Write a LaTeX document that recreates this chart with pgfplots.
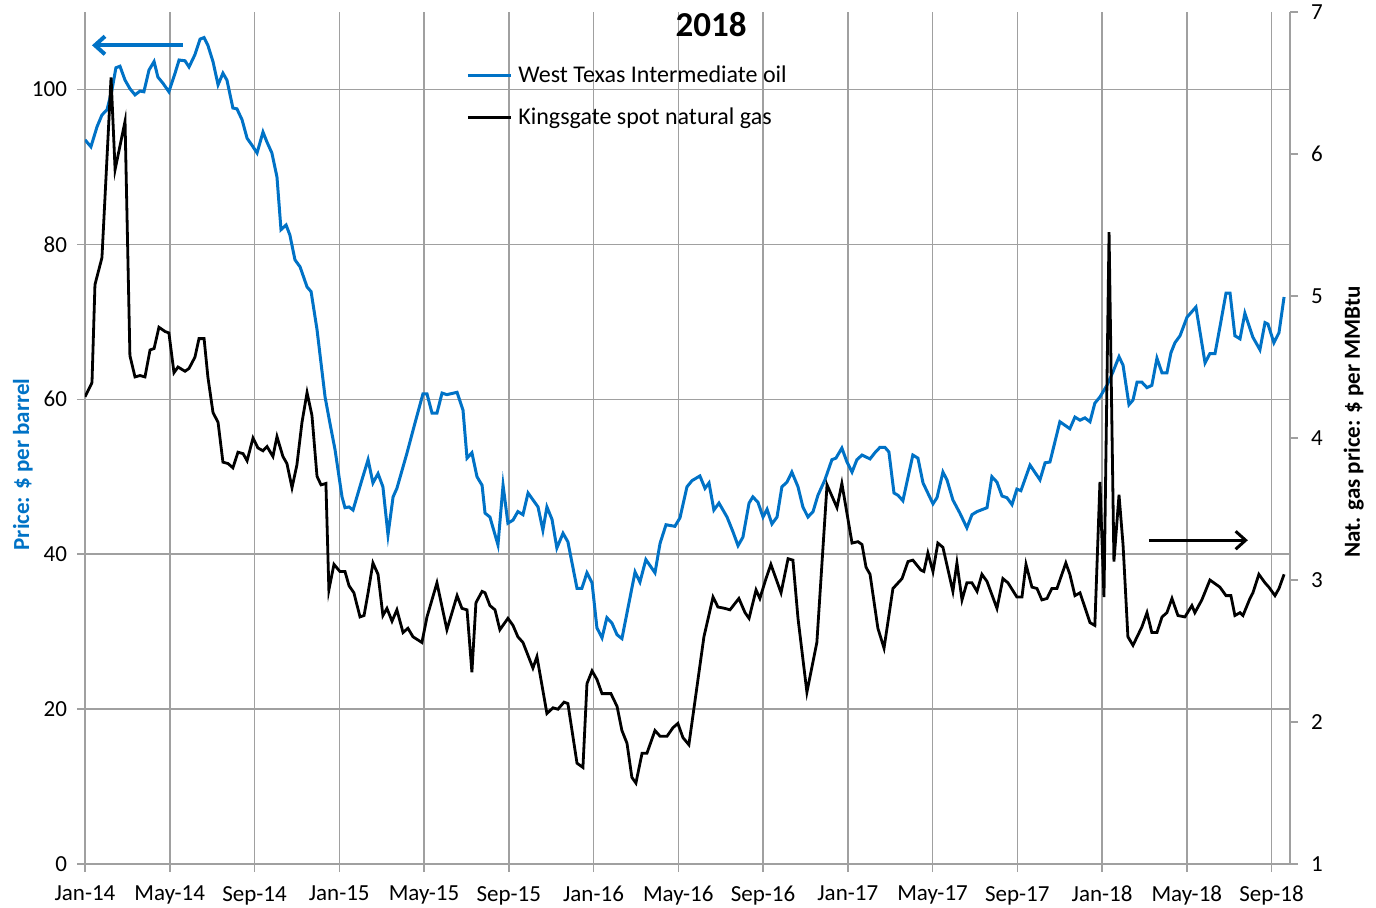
\documentclass[border=0pt]{standalone}
\usepackage{fontspec}
\setmainfont{Carlito}
\usepackage{pgfplots}
\pgfplotsset{compat=1.18}
\usetikzlibrary{arrows.meta}
\definecolor{wti}{RGB}{0,114,198}
\definecolor{gridc}{RGB}{160,160,160}
\begin{document}
\begin{tikzpicture}
\pgfplotsset{
  common/.style={
    width=602.5pt, height=426pt, scale only axis,
    xmin=0, xmax=56.87,
    /pgf/number format/assume math mode=true,
    tick label style={font=\fontsize{11.5}{13}\selectfont},
    label style={font=\bfseries\fontsize{11.5}{13}\selectfont},
    tick align=outside, major tick length=4pt,
    tick style={gridc, line width=0.75pt},
    axis line style={gridc, line width=0.75pt},
  }
}
\begin{axis}[common, name=main,
  ymin=0, ymax=110,
  axis x line*=bottom, axis y line*=left,
  xtick={0,4,...,56},
  xticklabels={Jan-14,May-14,Sep-14,Jan-15,May-15,Sep-15,Jan-16,May-16,Sep-16,Jan-17,May-17,Sep-17,Jan-18,May-18,Sep-18},
  xticklabel style={yshift=-3.5pt},
  yticklabel style={xshift=-1.5pt},
  ytick={0,20,...,100},
  grid=major, major grid style={gridc, line width=0.75pt},
  ylabel={Price: \$ per barrel},
  ylabel style={color=wti, at={(axis description cs:-0.0515,0.469)}, anchor=center},
]
\addplot[wti, line width=1.5pt] coordinates {
(0,93.5)(0.28,92.6)(0.57,95.2)(0.80,96.7)(1.04,97.4)(1.27,99.9)(1.46,102.8)(1.65,103.0)(1.89,101.2)(2.12,100.1)
(2.36,99.3)(2.60,99.8)(2.78,99.7)(3.02,102.5)(3.26,103.6)(3.44,101.6)(3.68,100.8)(3.96,99.7)(4.25,102.1)(4.44,103.8)
(4.72,103.7)(4.91,102.9)(5.19,104.5)(5.43,106.5)(5.62,106.7)(5.80,105.7)(6.04,103.6)(6.28,100.6)(6.51,102.1)(6.70,101.2)
(6.98,97.6)(7.17,97.5)(7.41,96.1)(7.65,93.7)(7.88,92.8)(8.12,91.8)(8.40,94.5)(8.59,93.2)(8.82,91.8)(9.06,88.7)
(9.25,81.9)(9.49,82.5)(9.67,81.2)(9.91,78.0)(10.15,77.1)(10.48,74.5)(10.67,73.9)(10.95,69.0)(11.33,60.3)(11.56,56.9)
(11.80,53.5)(12.13,47.4)(12.27,46.0)(12.46,46.1)(12.65,45.7)(13.07,49.6)(13.36,52.2)(13.59,49.2)(13.83,50.4)(14.06,48.7)
(14.30,42.5)(14.54,47.4)(14.72,48.5)(15.20,53.1)(15.57,56.9)(15.95,60.7)(16.14,60.7)(16.38,58.2)(16.61,58.2)(16.85,60.8)
(17.08,60.6)(17.56,60.9)(17.84,58.6)(18.03,52.4)(18.26,53.1)(18.50,50.0)(18.74,48.9)(18.88,45.3)(19.11,44.8)(19.49,41.2)
(19.73,48.9)(19.96,44.0)(20.20,44.4)(20.43,45.5)(20.67,45.1)(20.91,47.9)(21.38,46.1)(21.61,43.1)(21.80,46.1)(22.04,44.5)
(22.27,40.8)(22.56,42.7)(22.79,41.6)(23.22,35.6)(23.45,35.6)(23.69,37.6)(23.93,36.3)(24.16,30.5)(24.40,29.2)(24.63,31.8)
(24.87,31.1)(25.11,29.6)(25.34,29.1)(25.96,37.7)(26.19,36.4)(26.47,39.3)(26.90,37.6)(27.14,41.4)(27.42,43.8)(27.84,43.6)
(28.08,44.7)(28.41,48.7)(28.65,49.5)(29.02,50.1)(29.26,48.5)(29.45,49.2)(29.68,45.7)(29.92,46.6)(30.30,44.8)(30.58,42.9)
(30.82,41.1)(31.05,42.2)(31.34,46.6)(31.52,47.4)(31.76,46.7)(32.00,44.8)(32.19,45.8)(32.42,43.9)(32.66,44.8)(32.89,48.7)
(33.13,49.3)(33.36,50.6)(33.65,48.7)(33.88,46.1)(34.12,44.8)(34.36,45.5)(34.59,47.6)(34.92,49.6)(35.25,52.2)(35.44,52.4)
(35.72,53.7)(35.96,51.9)(36.20,50.6)(36.43,52.2)(36.67,52.8)(37.05,52.3)(37.28,53.1)(37.52,53.8)(37.75,53.8)(37.94,53.2)
(38.18,47.9)(38.37,47.6)(38.60,46.9)(39.07,52.8)(39.31,52.4)(39.55,49.2)(40.02,46.5)(40.21,47.3)(40.49,50.6)(40.68,49.6)
(40.96,47.0)(41.29,45.3)(41.62,43.4)(41.86,45.1)(42.10,45.5)(42.57,46.0)(42.80,50.0)(43.04,49.3)(43.28,47.5)(43.51,47.3)
(43.75,46.4)(43.98,48.4)(44.17,48.2)(44.60,51.5)(45.07,49.6)(45.31,51.8)(45.54,51.9)(46.01,57.1)(46.48,56.2)(46.72,57.7)
(46.96,57.3)(47.19,57.6)(47.43,57.1)(47.66,59.5)(47.90,60.3)(48.23,61.8)(48.51,63.5)(48.80,65.5)(48.99,64.4)(49.27,59.3)
(49.46,59.9)(49.65,62.2)(49.88,62.2)(50.12,61.5)(50.35,61.8)(50.59,65.3)(50.83,63.4)(51.06,63.4)(51.25,66.0)(51.44,67.3)
(51.68,68.2)(52.01,70.6)(52.43,71.9)(52.86,64.7)(53.09,65.9)(53.33,65.9)(53.56,69.3)(53.85,73.7)(54.04,73.7)(54.27,68.2)
(54.51,67.8)(54.74,71.1)(55.12,68.0)(55.45,66.4)(55.69,69.9)(55.83,69.7)(56.11,67.3)(56.35,68.6)(56.59,73.2)
};
\node[font=\bfseries\fontsize{17.5}{20}\selectfont] at (rel axis cs:0.5195,0.9847) {2018};
\draw[wti, line width=2pt, -{Straight Barb[length=5pt,width=9pt]}] (axis cs:4.62,105.7) -- (axis cs:0.33,105.7);
\draw[black, line width=1.5pt, -{Straight Barb[length=5pt,width=9pt]}] (axis cs:50.21,41.8) -- (axis cs:54.88,41.8);
\end{axis}
\begin{axis}[common,
  ymin=1, ymax=7,
  axis x line=none, axis y line*=right,
  ytick={1,2,...,7},
  yticklabel style={xshift=3pt},
  ylabel={Nat. gas price: \$ per MMBtu},
  ylabel style={at={(axis description cs:1.053,0.519)}, anchor=center},
  legend style={at={(axis description cs:0.3162,0.941)}, anchor=north west, draw=none, fill=none,
    font=\fontsize{12}{14}\selectfont, row sep=8pt, inner sep=0pt,
    nodes={inner sep=1.5pt}},
  legend cell align=left,
  legend image code/.code={\draw[#1] (0pt,0pt) -- (21.5pt,0pt);},
]
\addlegendimage{wti, line width=1.5pt}
\addlegendentry{\hspace{1.5pt}West Texas Intermediate oil}
\addplot[black, line width=1.4pt] coordinates {
(0,4.29)(0.33,4.39)(0.47,5.08)(0.80,5.27)(1.23,6.54)(1.42,5.89)(1.89,6.23)(2.12,4.58)(2.36,4.43)(2.60,4.44)
(2.83,4.43)(3.07,4.62)(3.26,4.63)(3.49,4.78)(3.78,4.75)(3.96,4.74)(4.20,4.46)(4.39,4.50)(4.72,4.47)(4.91,4.49)
(5.19,4.57)(5.38,4.70)(5.62,4.70)(5.80,4.43)(6.04,4.18)(6.28,4.11)(6.51,3.83)(6.75,3.82)(6.98,3.79)(7.22,3.90)
(7.46,3.89)(7.65,3.84)(7.93,4.00)(8.16,3.93)(8.40,3.91)(8.59,3.94)(8.87,3.87)(9.06,4.01)(9.34,3.87)(9.53,3.82)
(9.77,3.65)(10.00,3.81)(10.24,4.11)(10.48,4.32)(10.71,4.16)(10.95,3.73)(11.14,3.67)(11.37,3.68)(11.51,2.93)(11.75,3.11)
(12.03,3.06)(12.27,3.06)(12.46,2.96)(12.69,2.91)(12.98,2.74)(13.17,2.75)(13.36,2.91)(13.59,3.12)(13.83,3.04)(14.06,2.75)
(14.25,2.80)(14.49,2.71)(14.72,2.79)(15.01,2.63)(15.24,2.66)(15.48,2.60)(15.90,2.56)(16.14,2.74)(16.61,2.98)(17.08,2.65)
(17.56,2.89)(17.79,2.80)(18.03,2.79)(18.26,2.35)(18.45,2.84)(18.74,2.92)(18.88,2.91)(19.11,2.82)(19.35,2.79)(19.58,2.65)
(19.96,2.73)(20.20,2.68)(20.43,2.60)(20.67,2.56)(21.14,2.38)(21.33,2.46)(21.80,2.06)(22.09,2.10)(22.32,2.09)(22.61,2.14)
(22.79,2.13)(23.22,1.71)(23.50,1.68)(23.69,2.27)(23.93,2.36)(24.16,2.30)(24.40,2.20)(24.82,2.20)(25.11,2.11)(25.34,1.94)
(25.58,1.85)(25.81,1.61)(26.00,1.57)(26.29,1.78)(26.52,1.78)(26.90,1.94)(27.14,1.90)(27.47,1.90)(27.75,1.96)(27.98,1.99)
(28.22,1.89)(28.50,1.84)(28.79,2.15)(29.21,2.60)(29.64,2.88)(29.87,2.81)(30.20,2.80)(30.44,2.79)(30.86,2.87)(31.15,2.77)
(31.34,2.73)(31.67,2.93)(31.85,2.87)(32.14,3.01)(32.37,3.11)(32.85,2.91)(33.18,3.15)(33.41,3.14)(33.65,2.73)(34.07,2.21)
(34.54,2.56)(35.02,3.67)(35.49,3.51)(35.72,3.68)(36.20,3.26)(36.48,3.27)(36.67,3.25)(36.86,3.09)(37.05,3.04)(37.42,2.66)
(37.71,2.52)(38.13,2.94)(38.56,3.01)(38.84,3.13)(39.07,3.14)(39.45,3.07)(39.59,3.06)(39.78,3.19)(40.02,3.06)(40.25,3.26)
(40.49,3.23)(40.96,2.92)(41.15,3.12)(41.39,2.86)(41.62,2.98)(41.86,2.98)(42.10,2.92)(42.33,3.04)(42.57,2.99)(43.04,2.80)
(43.32,3.01)(43.56,2.98)(43.98,2.88)(44.22,2.88)(44.41,3.11)(44.69,2.95)(44.93,2.94)(45.16,2.86)(45.40,2.87)(45.63,2.94)
(45.87,2.94)(46.29,3.12)(46.48,3.04)(46.72,2.89)(46.96,2.91)(47.43,2.70)(47.66,2.68)(47.90,3.69)(48.09,2.88)(48.33,5.45)
(48.56,3.13)(48.80,3.60)(48.99,3.25)(49.22,2.60)(49.46,2.54)(49.88,2.67)(50.12,2.77)(50.35,2.63)(50.59,2.63)(50.83,2.74)
(51.06,2.77)(51.30,2.87)(51.58,2.75)(51.91,2.74)(52.24,2.82)(52.38,2.77)(52.71,2.86)(53.09,3.00)(53.56,2.95)(53.85,2.89)
(54.08,2.89)(54.27,2.75)(54.51,2.77)(54.65,2.75)(54.98,2.87)(55.12,2.91)(55.40,3.04)(55.69,2.98)(55.87,2.95)(56.16,2.89)
(56.35,2.94)(56.59,3.04)
};
\addlegendentry{\hspace{1.5pt}Kingsgate spot natural gas}
\end{axis}
\pgfresetboundingbox
\path ([shift={(-42.5pt,-21.5pt)}]main.south west) rectangle ([shift={(43pt,6pt)}]main.north east);
\end{tikzpicture}
\end{document}
